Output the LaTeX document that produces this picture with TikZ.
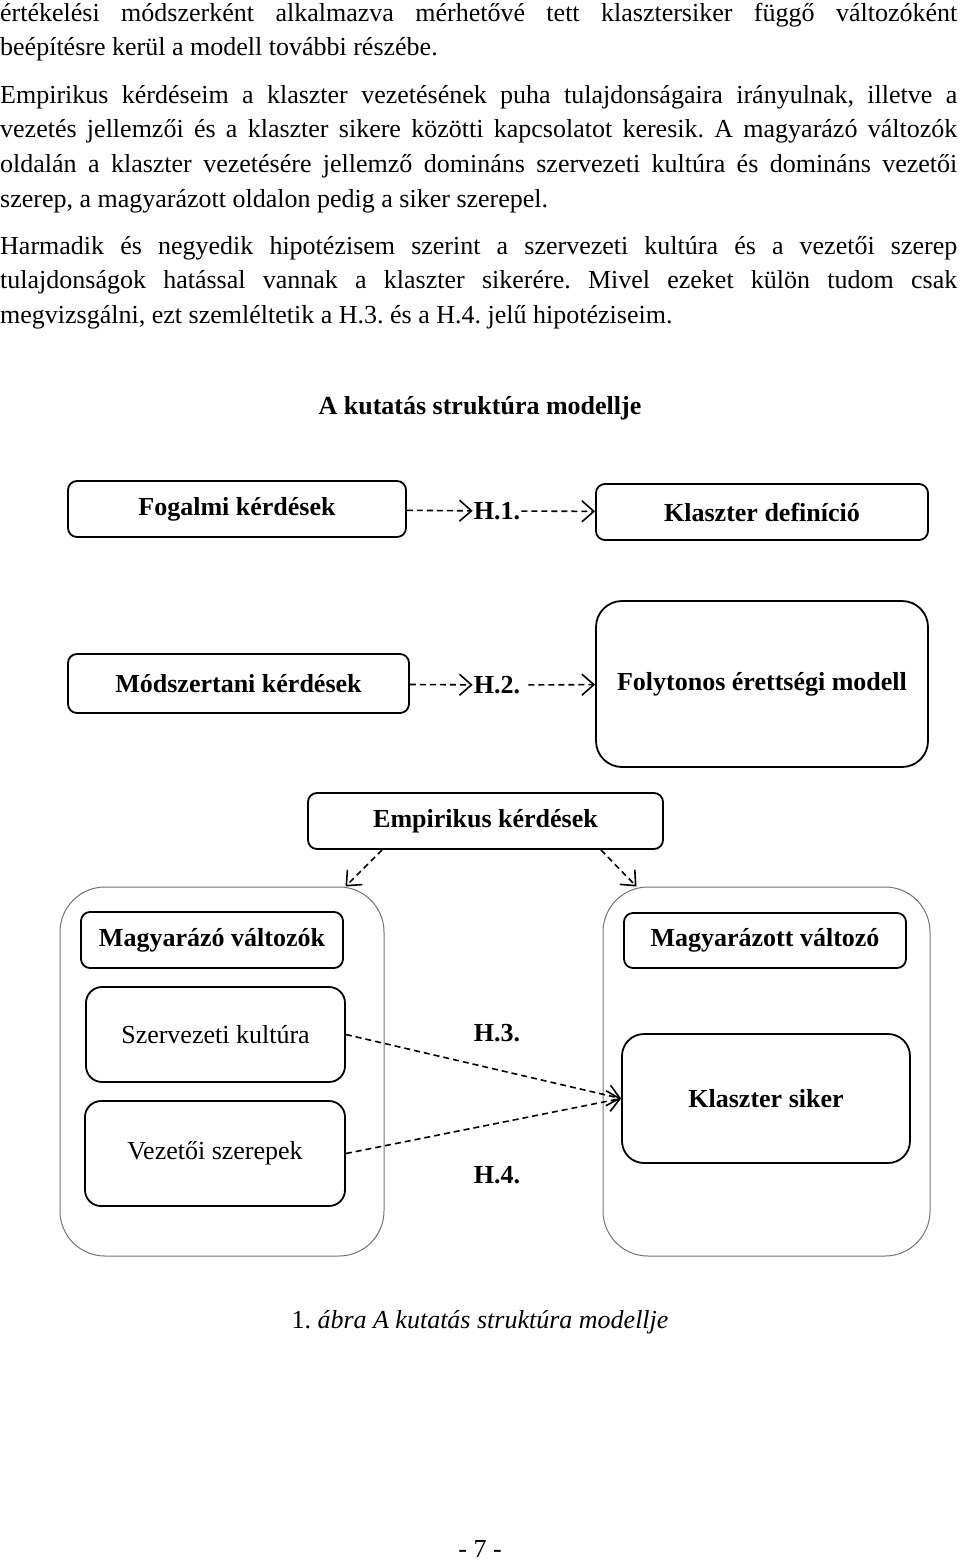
\documentclass[tikz,border=0pt]{standalone}
\usepackage{fontspec}
\setmainfont{Liberation Serif}
\usetikzlibrary{arrows.meta}

\begin{document}
\frenchspacing
\fontsize{26}{34}\selectfont
\begin{tikzpicture}[x=1pt, y=-1pt,
		box/.style={draw, line width=1.8pt, rounded corners=9pt, font=\bfseries, inner sep=0pt},
		plainbox/.style={draw, line width=1.8pt, rounded corners=16pt, inner sep=0pt},
		frame/.style={draw=black!55, line width=1pt, rounded corners=45pt, inner sep=0pt},
		hyp/.style={font=\bfseries, inner sep=1pt},
		conn/.style={-{Straight Barb[length=12pt, width=21pt]}, line width=1.6pt, dash pattern=on 6pt off 4pt},
		txt/.style={anchor=base west, inner sep=0pt}]
				\useasboundingbox (0,0) rectangle (960,1561);
				% text above the figure
				\node[txt] (L1)at(0, 21) {\makebox[957pt][s]{értékelési módszerként alkalmazva mérhetővé tett klasztersiker függő változóként}};
				\node[txt] (L2)at(0, 55) {beépítésre kerül a modell további részébe.};
				\node[txt] (L3)at(0, 103) {\makebox[957pt][s]{Empirikus kérdéseim a klaszter vezetésének puha tulajdonságaira irányulnak, illetve a}};
				\node[txt] (L4)at(0, 137) {\makebox[957pt][s]{vezetés jellemzői és a klaszter sikere közötti kapcsolatot keresik. A magyarázó változók}};
				\node[txt] (L5)at(0, 172) {\makebox[957pt][s]{oldalán a klaszter vezetésére jellemző domináns szervezeti kultúra és domináns vezetői}};
				\node[txt] (L6)at(0, 207) {szerep, a magyarázott oldalon pedig a siker szerepel.};
				\node[txt] (L7)at(0, 254) {\makebox[957pt][s]{Harmadik és negyedik hipotézisem szerint a szervezeti kultúra és a vezetői szerep}};
				\node[txt] (L8)at(0, 288) {\makebox[957pt][s]{tulajdonságok hatással vannak a klaszter sikerére. Mivel ezeket külön tudom csak}};
				\node[txt] (L9)at(0, 323) {megvizsgálni, ezt szemléltetik a H.3. és a H.4. jelű hipotéziseim.};
				\node[font=\bfseries] (T)at(480, 408) {A kutatás struktúra modellje};
				% boxes
				\node[box, minimum width=338, minimum height=56] (FK)at(237, 509) {Fogalmi kérdések};
				\node[box, minimum width=332, minimum height=56] (KD)at(762, 512) {Klaszter definíció};
				\node[box, minimum width=341, minimum height=59] (MK)at(238.5, 683.5) {Módszertani kérdések};
				\node[box, rounded corners=26pt, minimum width=332, minimum height=166] (FM)at(762, 684) {Folytonos érettségi modell};
				\node[box, minimum width=355, minimum height=56] (EK)at(485.5, 821) {Empirikus kérdések};
				\node[frame, minimum width=324, minimum height=369] (BL)at(222, 1071.5) {};
				\node[frame, minimum width=327, minimum height=369] (BR)at(766.5, 1071.5) {};
				\node[box, minimum width=262, minimum height=56] (ML)at(212, 940) {Magyarázó változók};
				\node[box, minimum width=282, minimum height=55] (MR)at(765, 940.5) {Magyarázott változó};
				\node[plainbox, minimum width=259, minimum height=95] (SK)at(215.5, 1034.5) {Szervezeti kultúra};
				\node[plainbox, minimum width=260, minimum height=105] (VS)at(215, 1153.5) {Vezetői szerepek};
				\node[box, rounded corners=22pt, minimum width=288, minimum height=129] (KS)at(766, 1098.5) {Klaszter siker};
				% hypotheses
				\node[hyp] (H1)at(497, 511) {H.1.};
				\node[hyp] (H2)at(497, 685) {H.2.};
				\node[hyp] (H3)at(497, 1033) {H.3.};
				\node[hyp] (H4)at(497, 1175) {H.4.};
				% arrows
				\draw[conn] (FK) -- (H1);
				\draw[conn] (H1) -- (KD);
				\draw[conn] (MK) -- (H2);
				\draw[conn, shorten <=7pt] (H2) -- (FM);
				\draw[conn] ([xshift=75pt]EK.south west) -- ([xshift=-39pt]BL.north east);
				\draw[conn] ([xshift=-63pt]EK.south east) -- ([xshift=34pt]BR.north west);
				\draw[conn] (SK.east) -- (KS.west);
				\draw[conn] (VS.east) -- (KS.west);
				% caption and page number
				\node (C)at(480, 1322) {1. \textit{ábra A kutatás struktúra modellje}};
				\node[anchor=base] (P)at(480, 1557) {- 7 -};
			\end{tikzpicture}
\end{document}
